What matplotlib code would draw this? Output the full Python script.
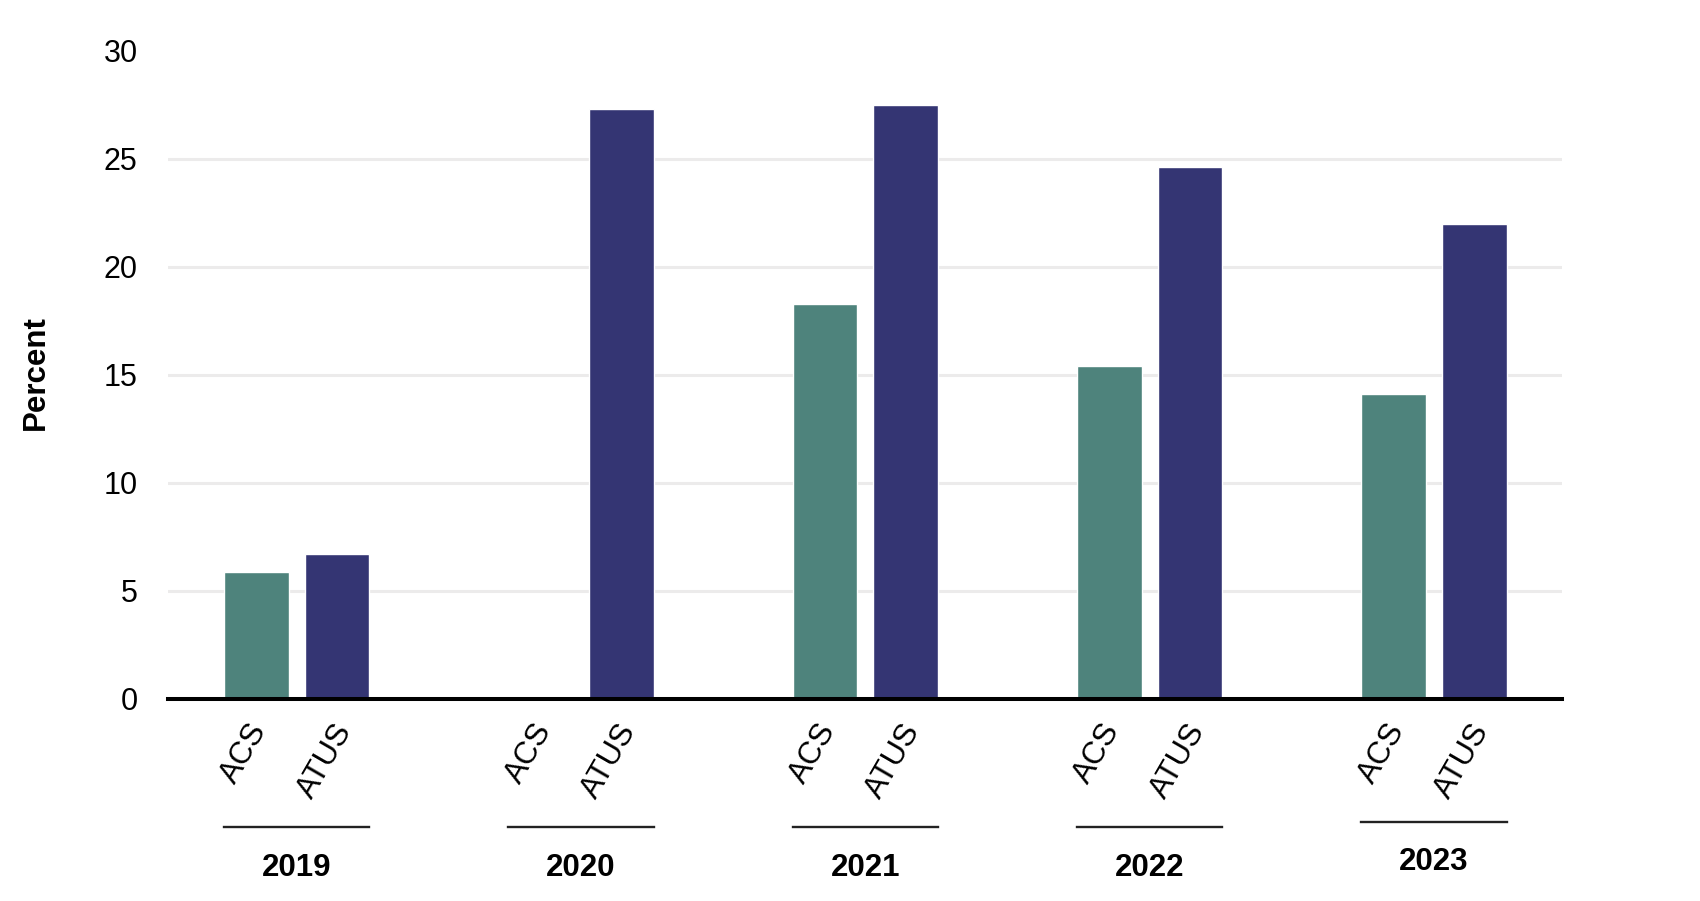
import numpy as np
import matplotlib
matplotlib.use('Agg')
import matplotlib.pyplot as plt
from matplotlib.transforms import offset_copy

years = ['2019', '2020', '2021', '2022', '2023']
series = ['ACS', 'ATUS']
acs = [5.9, np.nan, 18.3, 15.4, 14.1]
atus = [6.7, 27.3, 27.5, 24.6, 22.0]

colors = {'ACS': '#4e837c', 'ATUS': '#343573'}

plt.rcParams['font.family'] = ['Liberation Sans', 'DejaVu Sans']

fig = plt.figure(figsize=(17, 9.01), dpi=100)
ax = fig.add_axes([0.099, 0.2242, 0.820, 0.7195])

x = np.arange(len(years))
width = 0.228
off = 0.142

ax.bar(x - off, acs, width, color=colors['ACS'], edgecolor='white', linewidth=1, zorder=3)
ax.bar(x + off, atus, width, color=colors['ATUS'], edgecolor='white', linewidth=1, zorder=3)

ax.set_xlim(-0.451, len(years) - 1 + 0.451)
ax.set_ylim(0, 30)
ax.set_yticks([0, 5, 10, 15, 20, 25, 30])
ax.tick_params(axis='y', length=0, pad=22, labelsize=22)
ax.set_xticks([])

ax.grid(axis='y', color='#ecebeb', linewidth=2.2, zorder=0)
ax.yaxis.get_gridlines()[0].set_visible(False)
ax.yaxis.get_gridlines()[-1].set_visible(False)
ax.set_axisbelow(True)

for s in ['top', 'right', 'left']:
    ax.spines[s].set_visible(False)
ax.spines['bottom'].set_linewidth(2.9)
ax.spines['bottom'].set_color('black')
ax.spines['bottom'].set_zorder(4)

ax.set_ylabel('Percent', fontsize=22.5, fontweight='bold')
ax.yaxis.set_label_coords(-0.084, 0.503)

# bar labels, rotated
trans = offset_copy(ax.get_xaxis_transform(), fig=fig, x=-12, y=-19, units='dots')
for i in range(len(years)):
    for j, name in enumerate(series):
        xp = x[i] - off if j == 0 else x[i] + off
        ax.text(xp, 0, name, rotation=60, ha='center', va='top', fontsize=22.5,
                transform=trans, clip_on=False)

# group underline + year
xt = ax.get_xaxis_transform()
shift = [0, 0, 0, 0, 0.009]
for i, yr in enumerate(years):
    x0 = x[i] - off - width / 2
    x1 = x[i] + off + width / 2
    yl = -0.198 + shift[i]
    ax.plot([x0, x1], [yl, yl], color='#222222', linewidth=1.7, transform=xt, clip_on=False)
    ax.text(x[i], -0.260 + shift[i], yr, ha='center', va='center', fontsize=22.5,
            fontweight='bold', transform=xt)

fig.savefig('out.png', dpi=100, facecolor='white')
